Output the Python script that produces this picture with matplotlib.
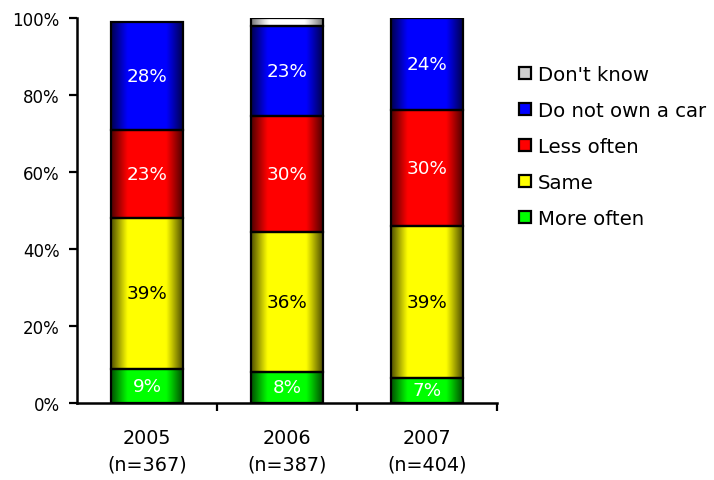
import numpy as np
import matplotlib
matplotlib.use("Agg")
import matplotlib.pyplot as plt
from matplotlib.patches import Patch
from matplotlib.ticker import FixedLocator, PercentFormatter

years = ["2005\n(n=367)", "2006\n(n=387)", "2007\n(n=404)"]
series = ["More often", "Same", "Less often", "Do not own a car", "Don't know"]
more_often = [8.9, 8.1, 6.6]
same = [39.1, 36.3, 39.4]
less_often = [22.9, 30.2, 30.1]
no_car = [28.1, 23.4, 23.8]
dont_know = [0.0, 2.0, 0.0]
values = [more_often, same, less_often, no_car, dont_know]

base_colors = [(0.0, 1.0, 0.0), (1.0, 1.0, 0.0), (1.0, 0.0, 0.0), (0.0, 0.0, 1.0), (1.0, 1.0, 1.0)]
text_colors = ["white", "black", "white", "white", None]

plt.rcParams["font.family"] = ["DejaVu Sans"]
plt.rcParams["font.size"] = 12

fig = plt.figure(figsize=(7.14, 4.81), dpi=100)
ax = fig.add_axes([77 / 714, 1 - 404 / 481, 420 / 714, 385 / 481])

x = np.arange(len(years))
width = 0.51
bottom = np.zeros(len(years))

t = np.linspace(0, 1, 200)
prof = 0.32 + 0.68 * np.clip(np.sin(np.pi * t) * 1.5, 0, 1) ** 1.1


def grad_img(color, gray=False):
    c = np.array(color)
    if gray:
        lvl = 0.45 + 0.55 * np.clip(np.sin(np.pi * t) * 1.4, 0, 1)
        img = np.stack([lvl, lvl, lvl], axis=-1)
    else:
        img = prof[:, None] * c[None, :]
    return img[None, :, :]


for vals, col, tcol, name in zip(values, base_colors, text_colors, series):
    vals = np.array(vals)
    bars = ax.bar(x, vals, width, bottom=bottom, facecolor="none",
                  edgecolor="black", linewidth=1.6, zorder=3)
    for p in bars.patches:
        if p.get_height() <= 0:
            p.set_visible(False)
            continue
        bx, by = p.get_x(), p.get_y()
        bw, bh = p.get_width(), p.get_height()
        ax.imshow(grad_img(col, gray=(name == "Don't know")),
                  extent=[bx, bx + bw, by, by + bh], aspect="auto",
                  interpolation="bilinear", zorder=2)
    if tcol is not None:
        labels = [f"{v:.0f}%" if v >= 3 else "" for v in vals]
        ax.bar_label(bars, labels=labels, label_type="center", color=tcol,
                     fontsize=13.2, zorder=4)
    bottom = bottom + vals

ax.set_xlim(-0.5, 2.5)
ax.set_ylim(0, 100)
ax.yaxis.set_major_locator(FixedLocator([0, 20, 40, 60, 80, 100]))
ax.yaxis.set_major_formatter(PercentFormatter(decimals=0))
ax.set_xticks(x)
ax.set_xticklabels(years, linespacing=1.5, fontsize=13.8)
ax.xaxis.set_minor_locator(FixedLocator([0.5, 1.5, 2.5]))
ax.tick_params(axis="x", which="major", length=0, pad=18)
ax.tick_params(axis="x", which="minor", length=6, width=1.6, direction="out")
ax.tick_params(axis="y", length=6, width=1.6, pad=6.5, direction="out", labelsize=12)
for s in ["top", "right"]:
    ax.spines[s].set_visible(False)
for s in ["left", "bottom"]:
    ax.spines[s].set_linewidth(1.8)

handles = [Patch(facecolor=c if n != "Don't know" else "#d0d0d0", edgecolor="black", linewidth=1.6, label=n)
           for c, n in zip(base_colors, series)][::-1]
fig.legend(handles=handles, loc="upper left", bbox_to_anchor=(511 / 714, 1 - 58 / 481),
           frameon=False, handlelength=0.6, handleheight=0.6, handletextpad=0.38,
           labelspacing=0.86, fontsize=14.2, borderaxespad=0)

fig.savefig("out.png", dpi=100)
